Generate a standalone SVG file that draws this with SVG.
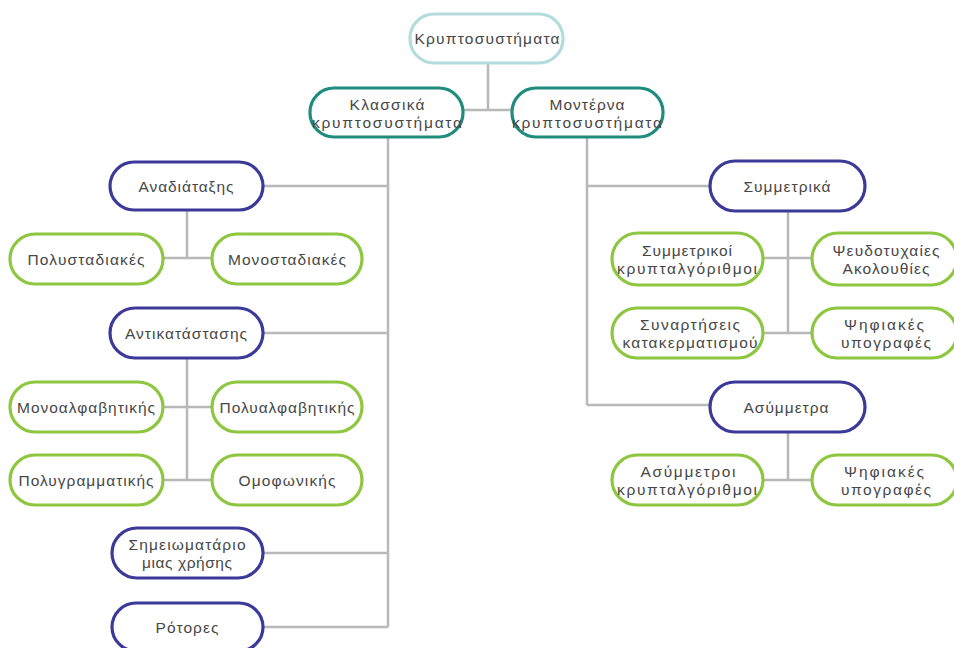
<svg xmlns="http://www.w3.org/2000/svg" width="954" height="648" viewBox="0 0 954 648">
<style>
.n rect{fill:#fff;stroke-width:3.2}
.root rect{stroke:#b4dcdc}
.l1 rect{stroke:#1f8c7e}
.l2 rect{stroke:#3c3a98}
.l3 rect{stroke:#8dc63f}
text{font-family:"Liberation Sans","DejaVu Sans",sans-serif;font-size:15.5px;fill:#474747;text-anchor:middle}
.c path{fill:none;stroke:#b8b8b8;stroke-width:2.5}
</style>
<rect width="954" height="648" fill="#fff"/>
<g class="c" id="connectors">
<path d="M488 63V110M463 110H512"/>
<path d="M388 137V627M263 186H388M263 333H388M263 553H388M263 627H388"/>
<path d="M187 210V258M163 258H212"/>
<path d="M187 358V480M163 407H212M163 480H212"/>
<path d="M587 137V405M587 186H710M587 405H710"/>
<path d="M788 211V333M763 258H812M763 333H812"/>
<path d="M788 432V480M763 480H812"/>
</g>
<g id="root" class="n root"><rect x="410" y="14" width="153" height="49" rx="24"/><text x="487" y="44" textLength="145">Κρυπτοσυστήματα</text></g>
<g id="klassika" class="n l1"><rect x="310" y="88" width="153" height="49" rx="24"/><text x="387" y="110" textLength="75">Κλασσικά</text><text x="387" y="128" textLength="150">κρυπτοσυστήματα</text></g>
<g id="moderna" class="n l1"><rect x="512" y="88" width="151" height="49" rx="24"/><text x="587" y="110" textLength="75">Μοντέρνα</text><text x="587" y="128" textLength="150">κρυπτοσυστήματα</text></g>
<g id="anadiataxis" class="n l2"><rect x="110" y="162" width="153" height="48" rx="24"/><text x="186" y="192" textLength="95">Αναδιάταξης</text></g>
<g id="polystadiakes" class="n l3"><rect x="10" y="234" width="153" height="50" rx="25"/><text x="86" y="265" textLength="117">Πολυσταδιακές</text></g>
<g id="monostadiakes" class="n l3"><rect x="212" y="234" width="150" height="50" rx="25"/><text x="287" y="265" textLength="118">Μονοσταδιακές</text></g>
<g id="antikatastasis" class="n l2"><rect x="110" y="308" width="153" height="50" rx="25"/><text x="186" y="339" textLength="122">Αντικατάστασης</text></g>
<g id="monoalfavitikis" class="n l3"><rect x="10" y="382" width="153" height="50" rx="25"/><text x="86" y="413" textLength="138">Μονοαλφαβητικής</text></g>
<g id="polyalfavitikis" class="n l3"><rect x="212" y="382" width="150" height="50" rx="25"/><text x="287" y="413" textLength="135">Πολυαλφαβητικής</text></g>
<g id="polygrammatikis" class="n l3"><rect x="10" y="455" width="153" height="50" rx="25"/><text x="86" y="486" textLength="135">Πολυγραμματικής</text></g>
<g id="omofonikis" class="n l3"><rect x="212" y="455" width="150" height="50" rx="25"/><text x="287" y="486" textLength="97">Ομοφωνικής</text></g>
<g id="simeiomatario" class="n l2"><rect x="112" y="528" width="151" height="50" rx="25"/><text x="187" y="550" textLength="117">Σημειωματάριο</text><text x="187" y="568" textLength="90">μιας χρήσης</text></g>
<g id="rotores" class="n l2"><rect x="112" y="603" width="151" height="48" rx="24"/><text x="187" y="633" textLength="63">Ρότορες</text></g>
<g id="symmetrika" class="n l2"><rect x="710" y="161" width="155" height="50" rx="25"/><text x="787" y="192" textLength="87">Συμμετρικά</text></g>
<g id="symmetrikoi" class="n l3"><rect x="612" y="233" width="151" height="52" rx="26"/><text x="687" y="256" textLength="90">Συμμετρικοί</text><text x="687" y="274" textLength="140">κρυπταλγόριθμοι</text></g>
<g id="pseudotyxaies" class="n l3"><rect x="812" y="233" width="145" height="52" rx="26"/><text x="886" y="256" textLength="107">Ψευδοτυχαίες</text><text x="886" y="274" textLength="87">Ακολουθίες</text></g>
<g id="synartiseis" class="n l3"><rect x="612" y="308" width="151" height="50" rx="25"/><text x="690" y="330" textLength="100">Συναρτήσεις</text><text x="690" y="348" textLength="135">κατακερματισμού</text></g>
<g id="psifiakes1" class="n l3"><rect x="812" y="308" width="145" height="50" rx="25"/><text x="884" y="330" textLength="80">Ψηφιακές</text><text x="886" y="348" textLength="90">υπογραφές</text></g>
<g id="asymmetra" class="n l2"><rect x="710" y="382" width="155" height="50" rx="25"/><text x="786" y="413" textLength="85">Ασύμμετρα</text></g>
<g id="asymmetroi" class="n l3"><rect x="612" y="455" width="151" height="50" rx="25"/><text x="688" y="477" textLength="95">Ασύμμετροι</text><text x="687" y="495" textLength="140">κρυπταλγόριθμοι</text></g>
<g id="psifiakes2" class="n l3"><rect x="812" y="455" width="145" height="50" rx="25"/><text x="884" y="477" textLength="80">Ψηφιακές</text><text x="886" y="495" textLength="90">υπογραφές</text></g>
</svg>
